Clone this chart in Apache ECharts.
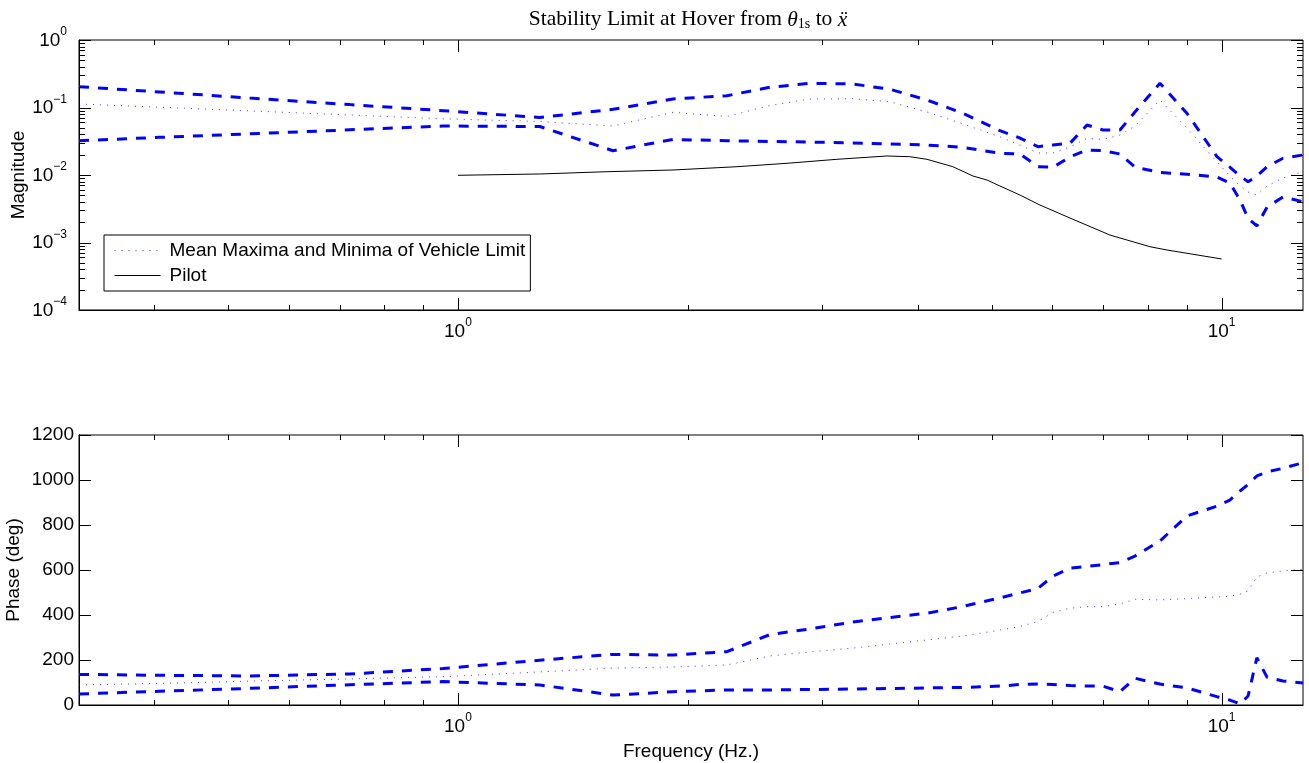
<!DOCTYPE html>
<html>
<head>
<meta charset="utf-8">
<title>Stability Limit at Hover</title>
<script src="https://cdn.jsdelivr.net/npm/echarts@6/dist/echarts.min.js"></script>
<style>
  html, body { margin: 0; padding: 0; background: #fff; }
  #chart { width: 1309px; height: 763px; }
</style>
</head>
<body>
<div id="chart"></div>
<script>
// frequencies (Hz) where the vehicle limit was evaluated
var freq = [0.319, 0.407, 0.534, 0.722, 0.956, 1.28, 1.596, 1.912, 2.25, 2.562,
  2.89, 3.29, 3.679, 4.113, 4.585, 5.125, 5.443, 5.747, 6.013, 6.33,
  6.664, 6.992, 7.359, 7.70, 8.303, 9.007, 9.859, 10.25, 10.57, 10.83,
  11.12, 11.47, 12.03, 12.78];

// magnitude (top plot)
var magMax = [0.2033, 0.1697, 0.1382, 0.1104, 0.0897, 0.0711, 0.0940, 0.1336, 0.1496, 0.1992,
  0.2284, 0.2230, 0.1861, 0.1292, 0.0821, 0.0453, 0.0353, 0.0263, 0.0278, 0.0295,
  0.0550, 0.0464, 0.0464, 0.0858, 0.2284, 0.0821, 0.0187, 0.0131, 0.00966, 0.00796,
  0.00966, 0.0133, 0.0177, 0.0198];
var magMean = [0.1127, 0.1010, 0.0891, 0.0774, 0.0680, 0.0620, 0.0532, 0.0849, 0.0736, 0.1071,
  0.1336, 0.1350, 0.1219, 0.0858, 0.0570, 0.0369, 0.0278, 0.0212, 0.0212, 0.0260,
  0.0350, 0.0336, 0.0391, 0.0532, 0.1292, 0.0497, 0.0156, 0.00966, 0.00687, 0.00560,
  0.00505, 0.00687, 0.00903, 0.0112];
var magMin = [0.0322, 0.0361, 0.0408, 0.0467, 0.0532, 0.0523, 0.0229, 0.0336, 0.0322, 0.0314,
  0.0308, 0.0298, 0.0288, 0.0278, 0.0257, 0.0210, 0.0205, 0.0133, 0.0130, 0.0185,
  0.0235, 0.0229, 0.0205, 0.0131, 0.0109, 0.0103, 0.00934, 0.00761, 0.00426, 0.00228,
  0.00176, 0.00336, 0.00472, 0.00402];

// phase in deg (bottom plot)
var phaseMax = [136, 132, 129, 138, 162, 199, 225, 222, 237, 313,
  338, 369, 389, 408, 438, 476, 498, 518, 573, 608,
  616, 624, 633, 662, 729, 840, 884, 911, 951, 980,
  1018, 1036, 1052, 1077];
var phaseMean = [89, 96, 106, 116, 126, 147, 164, 169, 178, 218,
  236, 253, 271, 289, 307, 333, 349, 371, 411, 430,
  437, 437, 449, 470, 467, 473, 480, 484, 493, 507,
  569, 587, 596, 603];
var phaseMin = [49, 61, 74, 90, 104, 89, 44, 59, 67, 67,
  69, 71, 73, 76, 78, 84, 91, 93, 91, 87,
  84, 84, 59, 119, 93, 76, 37, 22, 5, 40,
  210, 123, 107, 98];

// pilot response
var pilotFreq = [1, 1.28, 1.567, 1.912, 2.319, 2.697, 3.135, 3.646, 3.907, 4.113,
  4.447, 4.725, 4.928, 5.125, 5.443, 5.782, 6.272, 7.14, 8.057, 8.481, 10];
var pilotMag = [0.0099, 0.01035, 0.01119, 0.01186, 0.01327, 0.01491, 0.01708, 0.01912, 0.01866, 0.01708,
  0.01327, 0.00966, 0.00843, 0.00687, 0.00505, 0.00359, 0.00241, 0.00129, 0.000866, 0.000774, 0.00057];

// ticks
var freqMajor = [1, 10];
var freqMinor = [0.4, 0.5, 0.6, 0.7, 0.8, 0.9, 2, 3, 4, 5, 6, 7, 8, 9];
var magMajor = [1e-4, 1e-3, 1e-2, 1e-1, 1];
var magMinor = [];
[1e-4, 1e-3, 1e-2, 1e-1].forEach(function (d) {
  for (var k = 2; k <= 9; k++) magMinor.push(d * k);
});
var phaseMajor = [0, 200, 400, 600, 800, 1000, 1200];

var FONT = 'Liberation Sans';
var BLUE = '#0000ff';

function pairs(xs, ys) {
  return xs.map(function (x, i) { return [x, ys[i]]; });
}

function powLabel(v) {
  var e = Math.round(Math.log10(v));
  if (Math.abs(Math.log10(v) - e) > 1e-6) return '';
  return '{b|10}{s|' + String(e).replace('-', '\u2212') + '}';
}

var powRich = {
  b: { fontFamily: FONT, fontSize: 19, color: '#000', lineHeight: 20, verticalAlign: 'bottom' },
  s: { fontFamily: FONT, fontSize: 12, color: '#000', lineHeight: 12, verticalAlign: 'bottom', padding: [0, 0, 12, 0] }
};

// tick marks drawn inside the box, on both sides (x ticks use value 0, y ticks value 1)
function tickSeries(gi, dir, values, ref, len) {
  return {
    type: 'custom',
    xAxisIndex: gi, yAxisIndex: gi,
    silent: true, clip: false, z: 5,
    data: values.map(function (v) { return dir === 'x' ? [v, ref] : [ref, v]; }),
    renderItem: function (params, api) {
      var cs = params.coordSys;
      var p = api.coord([api.value(0), api.value(1)]);
      var st = { stroke: '#000', lineWidth: 1 };
      if (dir === 'x') {
        var x = Math.round(p[0]) + 0.5, b = cs.y + cs.height;
        return { type: 'group', children: [
          { type: 'line', shape: { x1: x, y1: b, x2: x, y2: b - len }, style: st },
          { type: 'line', shape: { x1: x, y1: cs.y, x2: x, y2: cs.y + len }, style: st }
        ] };
      }
      var y = Math.round(p[1]) + 0.5, r = cs.x + cs.width;
      return { type: 'group', children: [
        { type: 'line', shape: { x1: cs.x, y1: y, x2: cs.x + len, y2: y }, style: st },
        { type: 'line', shape: { x1: r, y1: y, x2: r - len, y2: y }, style: st }
      ] };
    }
  };
}

function dashed(name, gi, data) {
  return {
    name: name, type: 'line', xAxisIndex: gi, yAxisIndex: gi,
    data: data, symbol: 'none', z: 3,
    lineStyle: { color: BLUE, width: 3, type: [10, 9] }
  };
}
function dotted(name, gi, data) {
  return {
    name: name, type: 'line', xAxisIndex: gi, yAxisIndex: gi,
    data: data, symbol: 'none', z: 2,
    itemStyle: { color: BLUE },
    lineStyle: { color: BLUE, width: 1, type: [1, 6], opacity: 0.8 }
  };
}

var xAxisBase = {
  type: 'log', logBase: 10, min: 0.319, max: 12.78,
  axisLine: { show: true, lineStyle: { color: '#000', width: 1 } },
  axisTick: { show: false },
  splitLine: { show: false },
  minorTick: { show: false },
  axisLabel: { formatter: powLabel, rich: powRich, margin: 11, showMinLabel: false, showMaxLabel: false }
};

var chart = echarts.init(document.getElementById('chart'), null, { renderer: 'canvas' });

chart.setOption({
  animation: false,
  backgroundColor: '#fff',
  title: {
    text: 'Stability Limit at Hover from {i|\u03b8}{sub|1s} to {i|\u1e8d}',
    left: 688, top: 7, padding: 0, textAlign: 'center',
    textStyle: {
      fontFamily: 'Liberation Serif', fontSize: 21.5, fontWeight: 'normal', color: '#000',
      lineHeight: 24,
      rich: {
        i: { fontFamily: 'Liberation Serif', fontSize: 21.5, fontStyle: 'italic', color: '#000', lineHeight: 24, verticalAlign: 'bottom' },
        sub: { fontFamily: 'Liberation Serif', fontSize: 14, color: '#000', lineHeight: 13, verticalAlign: 'bottom' }
      }
    }
  },
  legend: {
    left: 104, top: 235, orient: 'vertical',
    padding: [6, 5, 6, 10], itemGap: 6, itemWidth: 46, itemHeight: 12,
    borderColor: '#000', borderWidth: 1, backgroundColor: '#fff',
    textStyle: { fontFamily: FONT, fontSize: 19, color: '#000', padding: [0, 0, 0, 4] },
    data: [
      { name: 'Mean Maxima and Minima of Vehicle Limit', itemStyle: { opacity: 0 }, lineStyle: { width: 1, type: [1, 6] } },
      { name: 'Pilot', itemStyle: { opacity: 0 }, lineStyle: { width: 1 } }
    ],
    selectedMode: false
  },
  grid: [
    { left: 79, top: 40, width: 1224, height: 270, show: true, borderColor: '#000', borderWidth: 1,
      containLabel: false, outerBoundsMode: 'none' },
    { left: 79, top: 435, width: 1224, height: 270, show: true, borderColor: '#000', borderWidth: 1,
      containLabel: false, outerBoundsMode: 'none' }
  ],
  xAxis: [
    Object.assign({ gridIndex: 0 }, xAxisBase),
    Object.assign({ gridIndex: 1, name: 'Frequency (Hz.)', nameLocation: 'middle', nameGap: 37,
      nameMoveOverlap: false,
      nameTextStyle: { fontFamily: FONT, fontSize: 19, color: '#000' } }, xAxisBase)
  ],
  yAxis: [
    {
      gridIndex: 0, type: 'log', logBase: 10, min: 1e-4, max: 1,
      name: 'Magnitude', nameLocation: 'middle', nameGap: 51, nameMoveOverlap: false,
      nameTextStyle: { fontFamily: FONT, fontSize: 19, color: '#000' },
      axisLine: { show: true, lineStyle: { color: '#000', width: 1 } },
      axisTick: { show: false }, splitLine: { show: false }, minorTick: { show: false },
      axisLabel: { formatter: powLabel, rich: powRich, margin: 12 }
    },
    {
      gridIndex: 1, type: 'value', min: 0, max: 1200, interval: 200,
      name: 'Phase (deg)', nameLocation: 'middle', nameGap: 56, nameMoveOverlap: false,
      nameTextStyle: { fontFamily: FONT, fontSize: 19, color: '#000' },
      axisLine: { show: true, lineStyle: { color: '#000', width: 1 } },
      axisTick: { show: false }, splitLine: { show: false },
      axisLabel: { fontFamily: FONT, fontSize: 19, color: '#000', margin: 5,
        formatter: function (v) { return String(v); } }
    }
  ],
  series: [
    dotted('Mean Maxima and Minima of Vehicle Limit', 0, pairs(freq, magMean)),
    {
      name: 'Pilot', type: 'line', xAxisIndex: 0, yAxisIndex: 0,
      data: pairs(pilotFreq, pilotMag), symbol: 'none', z: 2,
      itemStyle: { color: '#000' },
      lineStyle: { color: '#000', width: 1 }
    },
    dashed('Max magnitude', 0, pairs(freq, magMax)),
    dashed('Min magnitude', 0, pairs(freq, magMin)),
    dotted('Mean phase', 1, pairs(freq, phaseMean)),
    dashed('Max phase', 1, pairs(freq, phaseMax)),
    dashed('Min phase', 1, pairs(freq, phaseMin)),
    tickSeries(0, 'x', freqMajor, 0.01, 12),
    tickSeries(0, 'x', freqMinor, 0.01, 5),
    tickSeries(0, 'y', magMajor, 1, 12),
    tickSeries(0, 'y', magMinor, 1, 6),
    tickSeries(1, 'x', freqMajor, 600, 12),
    tickSeries(1, 'x', freqMinor, 600, 5),
    tickSeries(1, 'y', phaseMajor, 1, 12)
  ]
});
</script>
</body>
</html>
